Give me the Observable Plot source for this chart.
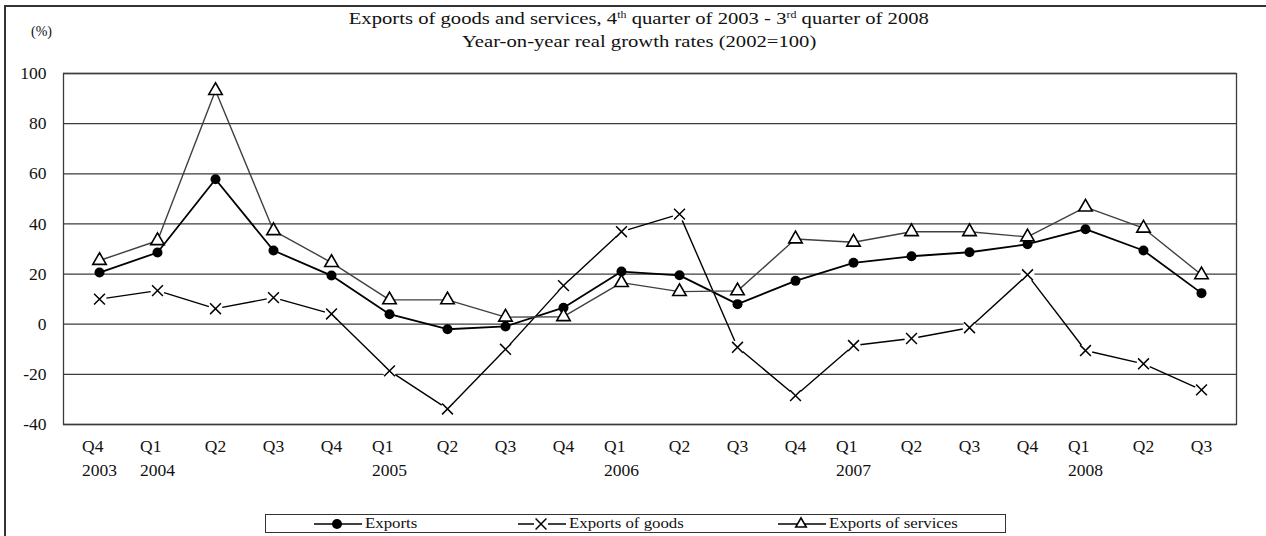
<!DOCTYPE html>
<html><head><meta charset="utf-8">
<script src="https://cdn.jsdelivr.net/npm/d3@7"></script>
<script src="https://cdn.jsdelivr.net/npm/@observablehq/plot@0.6"></script>
<style>
body{margin:0;background:#fff;}
#wrap{position:relative;width:1266px;height:536px;overflow:hidden;font-family:"Liberation Serif","Times New Roman",serif;color:#111;background:#fff;}
#frame{position:absolute;left:4px;top:5px;width:1300px;height:600px;border-top:2px solid #333;border-left:2px solid #333;}
#chart{position:absolute;left:0;top:0;}
.t{position:absolute;left:6px;width:1266px;text-align:center;font-size:17.5px;line-height:20px;white-space:nowrap;}
.t span{display:inline-block;transform:scaleX(1.18);}
.t sup{font-size:0.58em;vertical-align:0.55em;line-height:0;}
#unit{position:absolute;left:31px;top:24px;font-size:14px;}
#legend{position:absolute;left:265px;top:514px;width:739px;height:17px;border:1px solid #333;background:#fff;}
.li{position:absolute;top:0;height:17px;display:flex;align-items:center;}
.li svg{display:block;}
.li .lt{font-size:15px;display:inline-block;transform:scaleX(1.12);transform-origin:left center;margin-left:3px;white-space:nowrap;line-height:17px;}
</style></head>
<body>
<div id="wrap">
  <div id="frame"></div>
  <div id="chart"></div>
  <div class="t" style="top:8px"><span>Exports of goods and services, 4<sup>th</sup> quarter of 2003 - 3<sup>rd</sup> quarter of 2008</span></div>
  <div class="t" style="top:31px"><span>Year-on-year real growth rates (2002=100)</span></div>
  <div id="unit">(%)</div>
  <div id="legend"></div>
</div>
<script>
const quarters = ["Q4","Q1","Q2","Q3","Q4","Q1","Q2","Q3","Q4","Q1","Q2","Q3","Q4","Q1","Q2","Q3","Q4","Q1","Q2","Q3"];
const years = ["2003","2004","","","","2005","","","","2006","","","","2007","","","","2008","",""];
const exportsTotal = [20.6,28.6,57.8,29.4,19.4,4.0,-2.0,-0.9,6.6,21.0,19.5,8.0,17.3,24.5,27.1,28.7,31.9,37.9,29.4,12.4];
const exportsGoods = [10.0,13.4,6.2,10.6,4.1,-18.6,-33.8,-10.0,15.4,36.9,43.9,-9.2,-28.5,-8.5,-5.7,-1.4,19.7,-10.5,-15.8,-26.2];
const exportsServices = [25.4,33.3,93.2,37.3,24.6,9.7,9.7,2.8,3.0,16.6,13.0,13.3,34.0,32.7,36.9,36.9,34.8,46.7,38.3,19.7];
const yTicks = [-40,-20,0,20,40,60,80,100];
const seriesNames = ["Exports","Exports of goods","Exports of services"];

const idx = d3.range(quarters.length);
const withYear = idx.filter(i => years[i] !== "");
const noYear = idx.filter(i => years[i] === "");

const chart = Plot.plot({
  width: 1266, height: 536,
  marginLeft: 63, marginRight: 30, marginTop: 73, marginBottom: 112,
  style: {fontFamily: "Liberation Serif, Times New Roman, serif", fontSize: "17.5px", background: "transparent", color: "#111", overflow: "visible"},
  x: {type: "point", domain: idx, padding: 0.5, axis: null},
  y: {domain: [-40, 100]},
  marks: [
    Plot.ruleY(yTicks, {stroke: "#3c3c3c", strokeWidth: 1.3}),
    Plot.frame({stroke: "#3c3c3c", strokeWidth: 1.3}),
    Plot.axisY(yTicks, {tickSize: 0, tickPadding: 17, tickFormat: d => String(d), label: null, fontSize: 17.5}),
    Plot.text(withYear, {x: d => d, text: d => quarters[d], frameAnchor: "bottom", dy: 27, dx: -17.5, textAnchor: "start", fontSize: 17.5}),
    Plot.text(noYear, {x: d => d, text: d => quarters[d], frameAnchor: "bottom", dy: 27, fontSize: 17.5}),
    Plot.text(withYear, {x: d => d, text: d => years[d], frameAnchor: "bottom", dy: 51, fontSize: 17.5}),
    Plot.line(idx, {x: d => d, y: d => exportsTotal[d], stroke: "#000", strokeWidth: 1.8}),
    Plot.dot(idx, {x: d => d, y: d => exportsTotal[d], r: 5, fill: "#000", stroke: "none"}),
    Plot.line(idx, {x: d => d, y: d => exportsGoods[d], stroke: "#000", strokeWidth: 1.4}),
    Plot.dot(idx, {x: d => d, y: d => exportsGoods[d], r: 7, fill: "#fff", stroke: "none"}),
    Plot.dot(idx, {x: d => d, y: d => exportsGoods[d], r: 5, symbol: "times", stroke: "#000", strokeWidth: 1.5}),
    Plot.line(idx, {x: d => d, y: d => exportsServices[d], stroke: "#404040", strokeWidth: 1.4}),
    Plot.dot(idx, {x: d => d, y: d => exportsServices[d], r: 5, symbol: "triangle", fill: "#fff", stroke: "#000", strokeWidth: 1.6})
  ]
});
document.getElementById("chart").appendChild(chart);

// legend
const legend = d3.select("#legend");
const items = [
  {left: 48, sym: "circle", name: seriesNames[0]},
  {left: 252, sym: "times", name: seriesNames[1]},
  {left: 512, sym: "triangle", name: seriesNames[2]}
];
items.forEach(it => {
  const div = legend.append("div").attr("class", "li").style("left", it.left + "px");
  const svg = div.append("svg").attr("width", 48).attr("height", 17);
  svg.append("line").attr("x1", 0).attr("x2", 48).attr("y1", 9).attr("y2", 9).attr("stroke", "#000").attr("stroke-width", 1.6);
  const g = svg.append("g").attr("transform", "translate(23,9)");
  if (it.sym === "circle") {
    g.append("circle").attr("r", 5).attr("fill", "#000");
  } else if (it.sym === "times") {
    g.append("rect").attr("x", -7).attr("y", -8).attr("width", 14).attr("height", 16).attr("fill", "#fff");
    g.append("path").attr("d", d3.symbol(d3.symbolTimes, Math.PI * 5 * 5)()).attr("stroke", "#000").attr("stroke-width", 1.5).attr("fill", "none");
  } else {
    g.append("path").attr("d", d3.symbol(d3.symbolTriangle2, Math.PI * 5 * 5)()).attr("stroke", "#000").attr("stroke-width", 1.6).attr("fill", "#fff");
  }
  div.append("span").attr("class", "lt").text(it.name);
});
</script>
</body></html>
